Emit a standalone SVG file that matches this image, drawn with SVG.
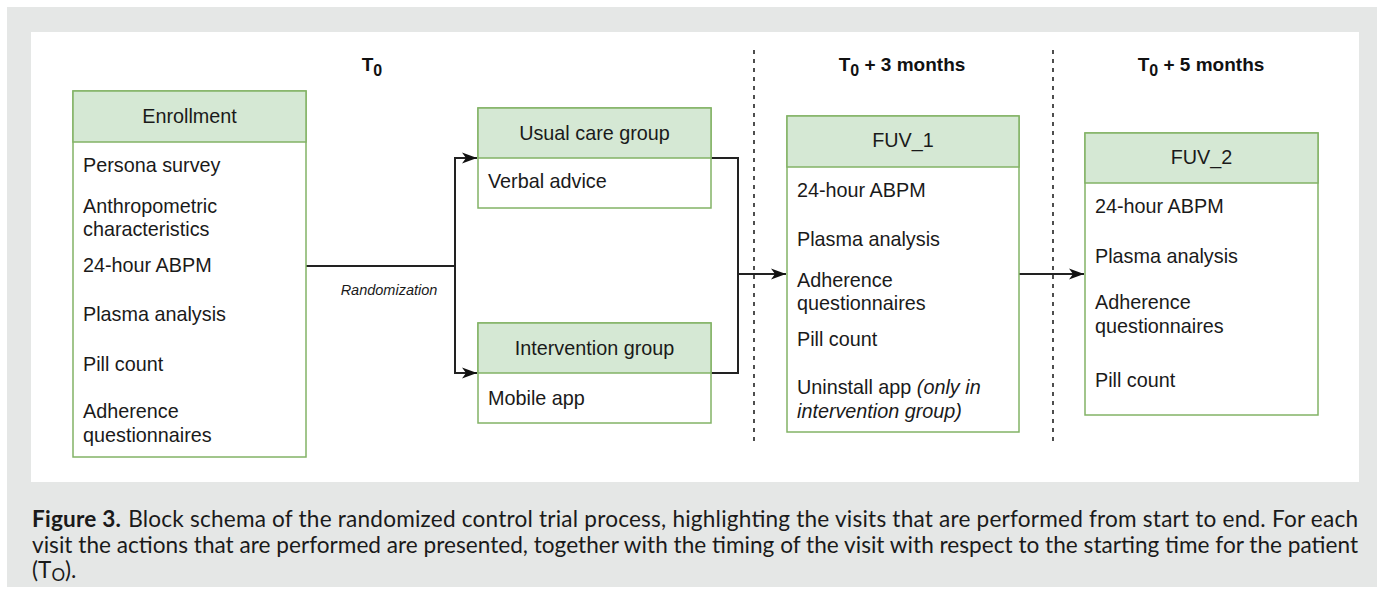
<svg xmlns="http://www.w3.org/2000/svg" width="1384" height="594" viewBox="0 0 1384 594">
<style>
.box{fill:#ffffff;stroke:#82b366;stroke-width:1.5}
.hdr{fill:#d5e8d4;stroke:#82b366;stroke-width:1.5}
.t{font-family:"Liberation Sans",Arial,sans-serif;font-size:19.8px;fill:#1a1a1a}
.c{text-anchor:middle}
.h{font-family:"Liberation Sans",Arial,sans-serif;font-size:19px;font-weight:bold;fill:#111;text-anchor:middle}
.con{fill:none;stroke:#222;stroke-width:2}
.dash{fill:none;stroke:#222;stroke-width:1.6;stroke-dasharray:4 5}
.cap{font-family:Lato,"Noto Sans",sans-serif;font-size:22.6px;fill:#1a1a1a}
</style>
<defs>
<marker id="arr" markerUnits="userSpaceOnUse" markerWidth="16" markerHeight="13" refX="15" refY="6.5" orient="auto">
<path d="M0,1 L15,6.5 L0,12 L4,6.5 Z" fill="#111"/>
</marker>
</defs>
<rect x="7" y="7" width="1370" height="580" fill="#e5e7e6"/>
<rect x="31" y="32" width="1328" height="450" fill="#ffffff"/>

<g id="headers">
<text class="h" x="372" y="71">T<tspan dy="5" font-size="16">0</tspan></text>
<text class="h" x="902" y="71">T<tspan dy="5" font-size="16">0</tspan><tspan dy="-5"> + 3 months</tspan></text>
<text class="h" x="1201" y="71">T<tspan dy="5" font-size="16">0</tspan><tspan dy="-5"> + 5 months</tspan></text>
</g>

<g id="separators">
<line class="dash" x1="754" y1="50" x2="754" y2="441"/>
<line class="dash" x1="1053" y1="50" x2="1053" y2="441"/>
</g>

<g id="connectors">
<path class="con" d="M306,266 H455 V158 H477" marker-end="url(#arr)"/>
<path class="con" d="M455,266 V373 H477" marker-end="url(#arr)"/>
<path class="con" d="M711,158 H738 V373 H711"/>
<path class="con" d="M738,274 H786" marker-end="url(#arr)"/>
<path class="con" d="M1019,274 H1084" marker-end="url(#arr)"/>
<text x="389" y="295" font-family="Liberation Sans,Arial,sans-serif" font-size="14.5" font-style="italic" fill="#1a1a1a" text-anchor="middle">Randomization</text>
</g>

<g id="enrollment">
<rect class="box" x="73" y="91" width="233" height="366"/>
<rect class="hdr" x="73" y="91" width="233" height="51"/>
<text class="t c" x="189.5" y="123">Enrollment</text>
<text class="t" x="83" y="172">Persona survey</text>
<text class="t" x="83" y="213">Anthropometric</text>
<text class="t" x="83" y="236">characteristics</text>
<text class="t" x="83" y="272">24-hour ABPM</text>
<text class="t" x="83" y="321">Plasma analysis</text>
<text class="t" x="83" y="371">Pill count</text>
<text class="t" x="83" y="418">Adherence</text>
<text class="t" x="83" y="442">questionnaires</text>
</g>

<g id="usual-care">
<rect class="box" x="478" y="108" width="233" height="100"/>
<rect class="hdr" x="478" y="108" width="233" height="50"/>
<text class="t c" x="594.5" y="140">Usual care group</text>
<text class="t" x="488" y="188">Verbal advice</text>
</g>

<g id="intervention">
<rect class="box" x="478" y="323" width="233" height="100"/>
<rect class="hdr" x="478" y="323" width="233" height="50"/>
<text class="t c" x="594.5" y="355">Intervention group</text>
<text class="t" x="488" y="405">Mobile app</text>
</g>

<g id="fuv1">
<rect class="box" x="787" y="116" width="232" height="316"/>
<rect class="hdr" x="787" y="116" width="232" height="51"/>
<text class="t c" x="903" y="147">FUV_1</text>
<text class="t" x="797" y="197">24-hour ABPM</text>
<text class="t" x="797" y="246">Plasma analysis</text>
<text class="t" x="797" y="287">Adherence</text>
<text class="t" x="797" y="310">questionnaires</text>
<text class="t" x="797" y="346">Pill count</text>
<text class="t" x="797" y="394">Uninstall app <tspan font-style="italic">(only in</tspan></text>
<text class="t" x="797" y="418" font-style="italic">intervention group)</text>
</g>

<g id="fuv2">
<rect class="box" x="1085" y="133" width="233" height="282"/>
<rect class="hdr" x="1085" y="133" width="233" height="50"/>
<text class="t c" x="1201.5" y="164">FUV_2</text>
<text class="t" x="1095" y="213">24-hour ABPM</text>
<text class="t" x="1095" y="263">Plasma analysis</text>
<text class="t" x="1095" y="309">Adherence</text>
<text class="t" x="1095" y="333">questionnaires</text>
<text class="t" x="1095" y="387">Pill count</text>
</g>

<g id="caption">
<text class="cap" x="32" y="527" textLength="1326" lengthAdjust="spacing"><tspan font-weight="bold">Figure 3.</tspan><tspan dx="7">Block schema of the randomized control trial process, highlighting the visits that are performed from start to end. For each</tspan></text>
<text class="cap" x="32" y="553" textLength="1326" lengthAdjust="spacing">visit the actions that are performed are presented, together with the timing of the visit with respect to the starting time for the patient</text>
<text class="cap" x="32" y="578">(T<tspan dy="3" font-size="17">O</tspan><tspan dy="-3">).</tspan></text>
</g>
</svg>
